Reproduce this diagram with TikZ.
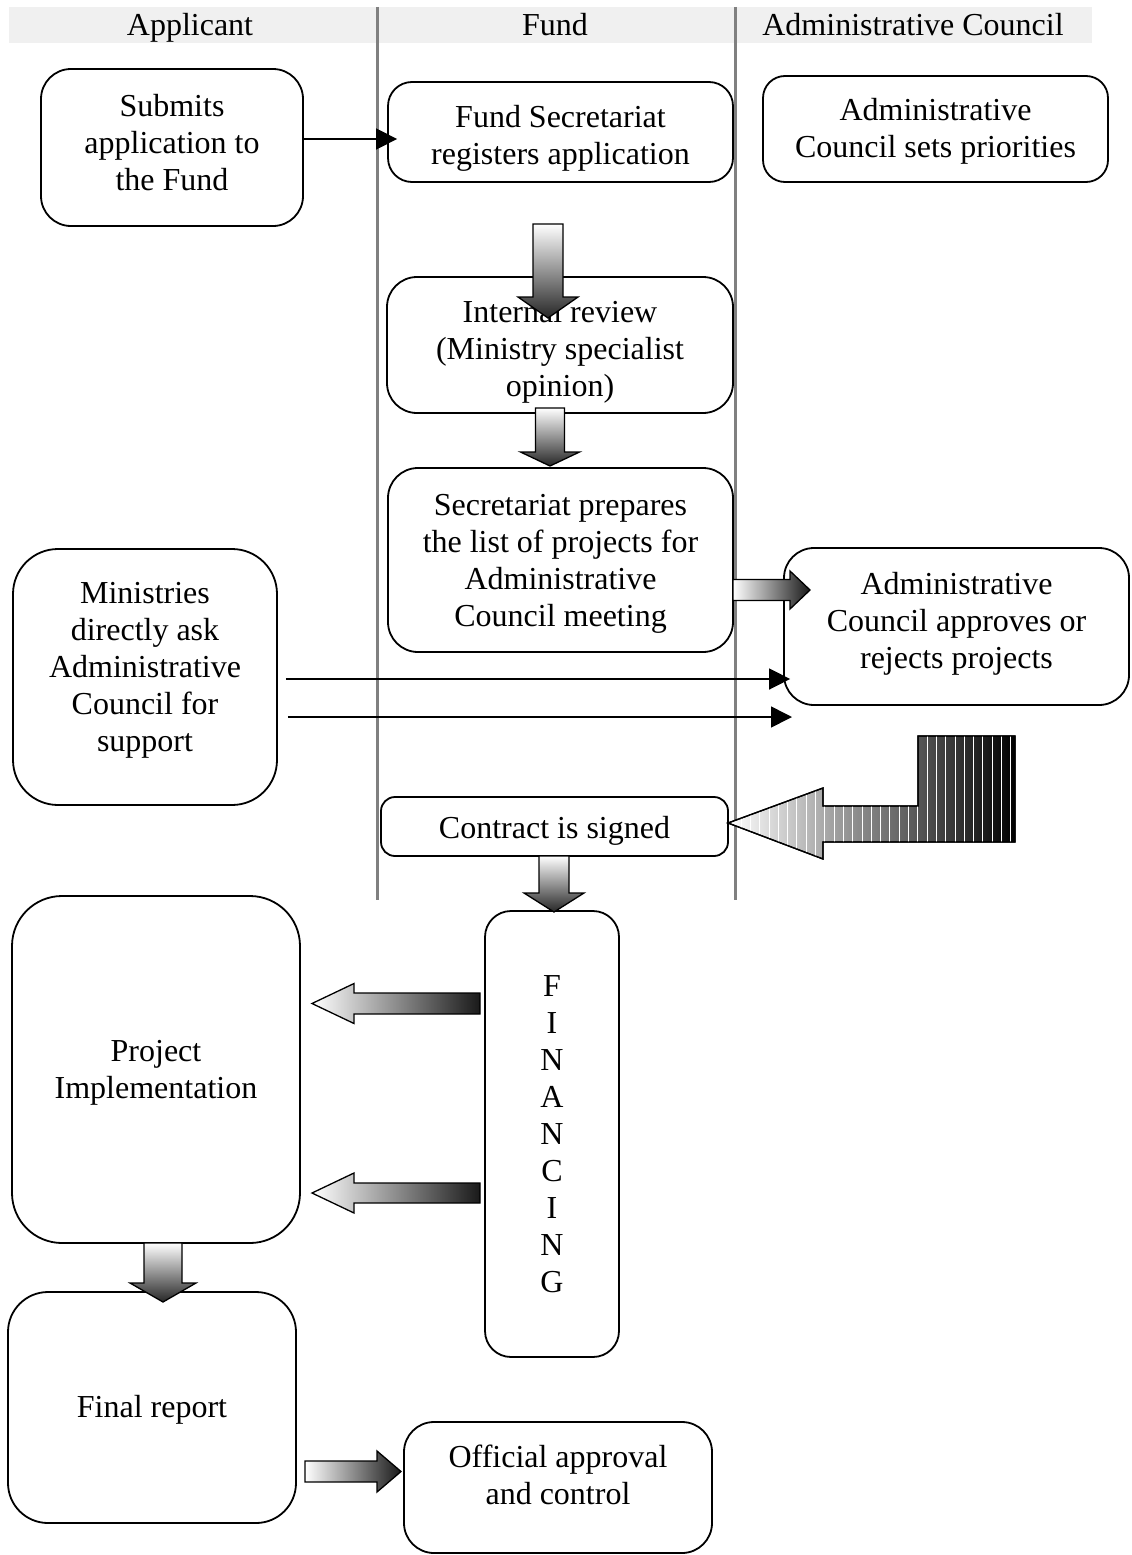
\documentclass[tikz,border=0pt]{standalone}
\usepackage{fontspec}
\setmainfont{Liberation Serif}
\usetikzlibrary{arrows.meta}
\newcommand\bodyfont{\fontsize{32}{37}\selectfont}
% invisible struts that shift a node's text: \topstrut{h} in first line, \botstrut{d} in last line
\newcommand\topstrut[1]{\rule{0pt}{#1pt}}
\newcommand\botstrut[1]{\rule[-#1pt]{0pt}{#1pt}}
\tikzset{
  box/.style={draw, line width=1.8pt, rounded corners=#1, align=center, inner sep=0pt, font=\bodyfont},
  box/.default=30pt,
  headtext/.style={font=\bodyfont, inner sep=0pt, anchor=base},
  lane/.style={draw=black!50, line width=3pt},
  flowline/.style={line width=1.6pt, -{Triangle[length=21pt,width=21pt]}},
  blockv/.style={top color=white, bottom color=black!85, draw=black, line width=1.3pt},
  blockh/.style={left color=white, right color=black!90, draw=black, line width=1.3pt},
}
% block arrow pointing down: cx, top, head base, tip, shaft half width, head half width
\newcommand\blockdown[6]{%
  \shadedraw[blockv] ({#1-#5},#2) -- ({#1+#5},#2) -- ({#1+#5},#3) -- ({#1+#6},#3) -- (#1,#4) -- ({#1-#6},#3) -- ({#1-#5},#3) -- cycle;}
% block arrow pointing right/left: cy, shaft end x, head base x, tip x, shaft half width, head half width
\newcommand\blockhoriz[6]{%
  \shadedraw[blockh] (#2,{#1-#5}) -- (#3,{#1-#5}) -- (#3,{#1-#6}) -- (#4,#1) -- (#3,{#1+#6}) -- (#3,{#1+#5}) -- (#2,{#1+#5}) -- cycle;}
\begin{document}
\begin{tikzpicture}[x=1pt,y=-1pt]
\useasboundingbox (0,0) rectangle (1132,1555);
% header band and lanes
\fill[black!6] (9,7) rectangle (1092,43);
\draw[lane] (377,7) -- (377,900);
\draw[lane] (735,7) -- (735,900);
\node[headtext] (hApp) at (190,36) {Applicant};
\node[headtext] (hFund) at (555,36) {Fund};
\node[headtext] (hAC) at (913,36) {Administrative Council};

% boxes
\node[box, minimum width=262pt, minimum height=157pt] (sub) at (172,147.5) {Submits\\application to\\the Fund\botstrut{10}};
\node[box=24pt, minimum width=345pt, minimum height=100pt] (fsr) at (560.5,132) {\topstrut{35}Fund Secretariat\\registers application};
\node[box=22pt, minimum width=345pt, minimum height=106pt] (acp) at (935.5,129) {\topstrut{27}Administrative\\Council sets priorities};
\node[box, minimum width=346pt, minimum height=136pt] (irv) at (560,345) {\topstrut{36}Internal review\\(Ministry specialist\\opinion)};
\node[box, minimum width=345pt, minimum height=184pt] (spl) at (560.5,560) {\topstrut{29}Secretariat prepares\\the list of projects for\\Administrative\\Council meeting};
\node[box=45pt, minimum width=264pt, minimum height=256pt] (min) at (145,677) {Ministries\\directly ask\\Administrative\\Council for\\support\botstrut{20}};
\node[box, minimum width=345pt, minimum height=157pt] (aap) at (956.5,626.5) {Administrative\\Council approves or\\rejects projects\botstrut{12}};
\node[box=14pt, minimum width=347pt, minimum height=59pt] (con) at (554.5,826.5) {\topstrut{31}Contract is signed};
\node[box=50pt, minimum width=288pt, minimum height=347pt] (pim) at (156,1069.5) {\topstrut{27}Project\\Implementation};
\node[box=26pt, minimum width=134pt, minimum height=446pt] (fin) at (552,1134) {F\\I\\N\\A\\N\\C\\I\\N\\G};
\node[box=40pt, minimum width=288pt, minimum height=231pt] (fnr) at (152,1407.5) {\topstrut{27}Final report};
\node[box, minimum width=308pt, minimum height=131pt] (off) at (558,1487.5) {Official approval\\and control\botstrut{26}};

% thin connectors
\coordinate (ya) at (0,139);
\coordinate (yb) at (0,679);
\coordinate (yc) at (0,717);
\draw[flowline, shorten >=-10pt] (sub.east |- ya) -- (fsr.west |- ya);
\draw[flowline, shorten <=8pt, shorten >=-7pt] (min.east |- yb) -- (aap.west |- yb);
\coordinate (freeEnd) at (792,717);
\draw[flowline, shorten <=10pt] (min.east |- yc) -- (freeEnd);

% block arrows
\blockdown{548}{224}{297}{318}{15}{30}
\blockdown{550}{408}{452}{466}{14.5}{29.5}
\blockdown{554}{856}{893}{912}{15}{30}
\blockdown{163}{1243}{1283}{1302}{19}{33}
\blockhoriz{590}{733}{790}{810}{10.5}{19}
\blockhoriz{1471.5}{305}{377}{401}{10.5}{20.5}
\blockhoriz{1003.5}{480}{354}{312}{10.5}{20}
\blockhoriz{1193}{480}{354}{312}{10}{20}

% L-shaped return arrow to the contract
\shadedraw[left color=white, right color=black, draw=black, line width=1.3pt]
  (1015,736) -- (918,736) -- (918,806) -- (823,806) -- (823,788) -- (728,823)
  -- (823,859) -- (823,842) -- (1015,842) -- cycle;
\begin{scope}
  \clip (1015,736) -- (918,736) -- (918,806) -- (823,806) -- (823,788) -- (728,823)
    -- (823,859) -- (823,842) -- (1015,842) -- cycle;
  \foreach \k in {0,...,29} {
    \draw[white, line width=0.8pt] ({741+9.3*\k},730) -- ({741+9.3*\k},865);
  }
\end{scope}
\draw[black, line width=1.3pt]
  (1015,736) -- (918,736) -- (918,806) -- (823,806) -- (823,788) -- (728,823)
  -- (823,859) -- (823,842) -- (1015,842) -- cycle;
\end{tikzpicture}
\end{document}
